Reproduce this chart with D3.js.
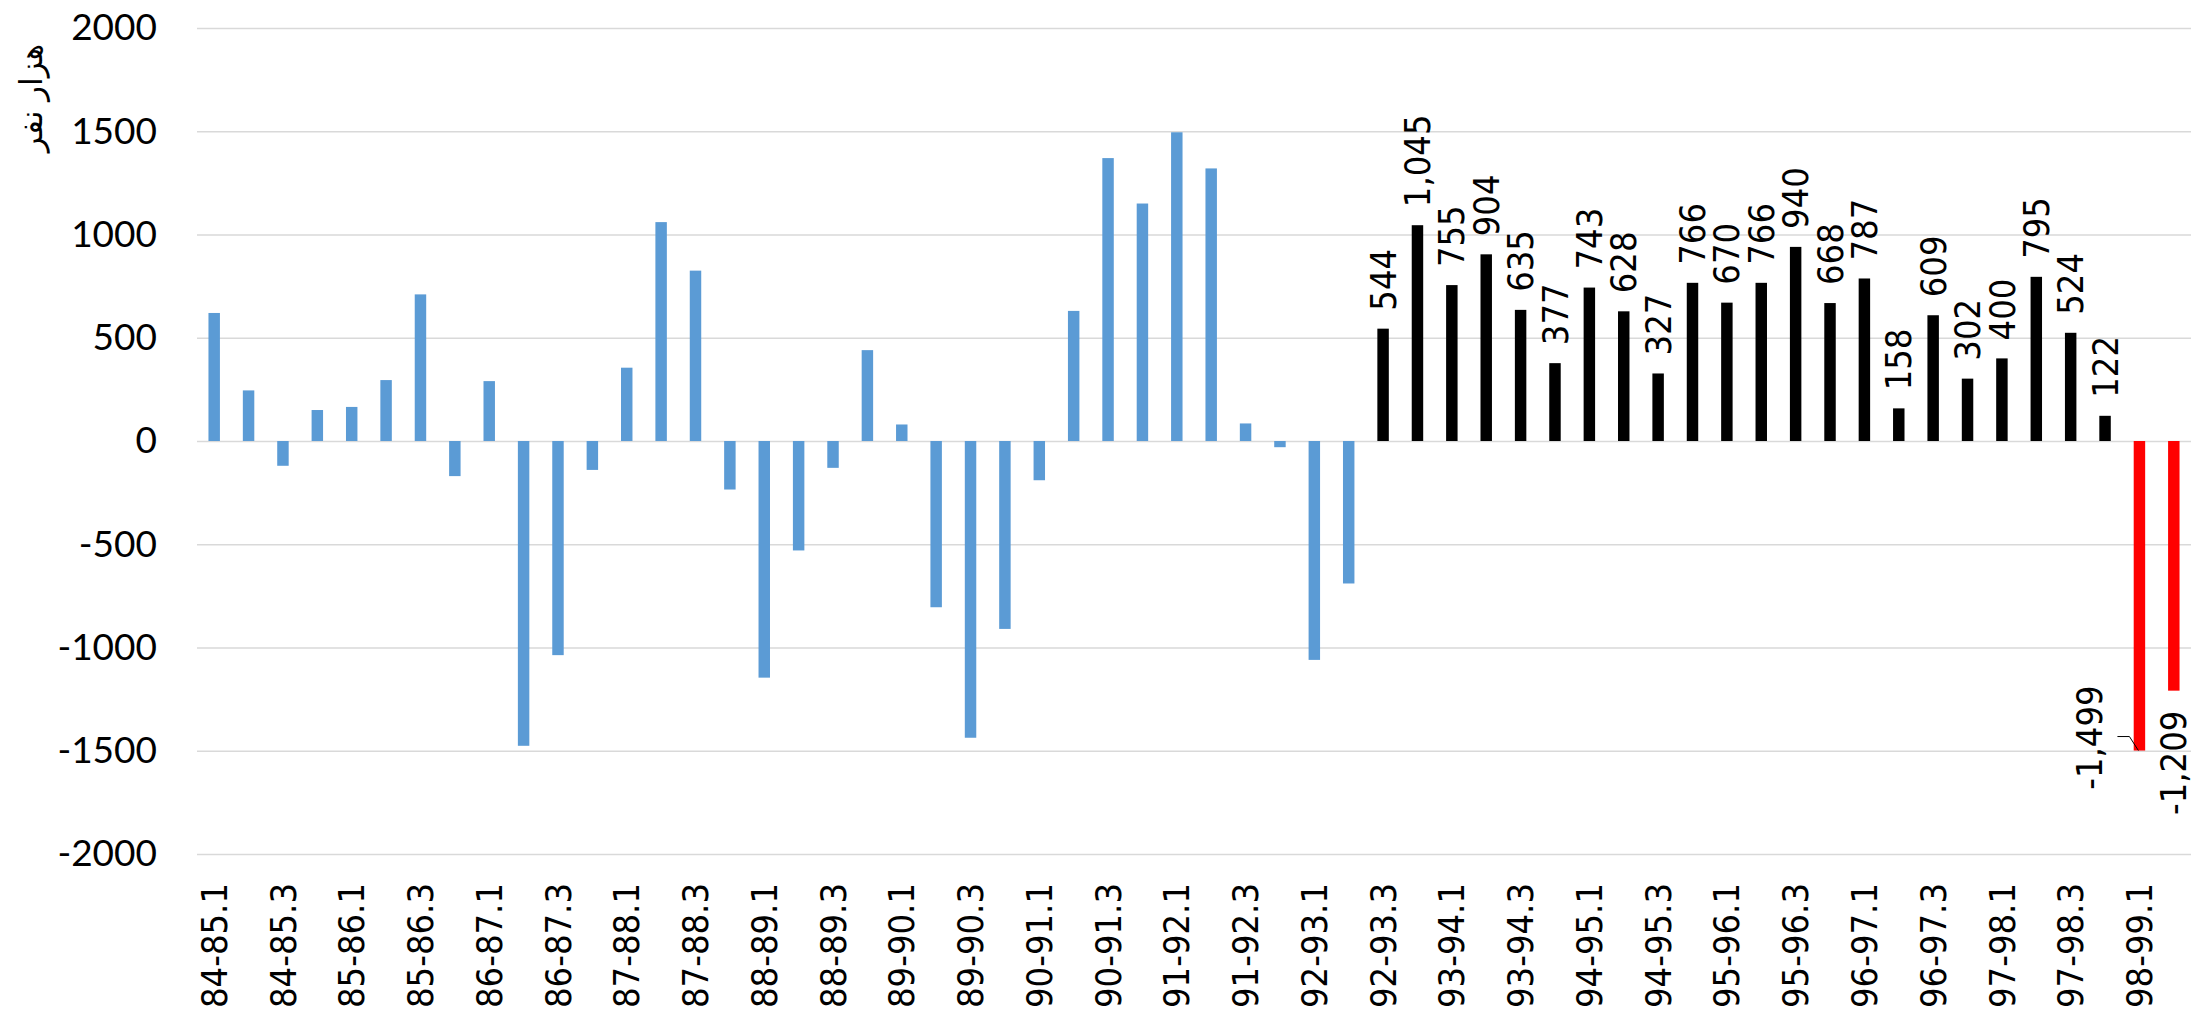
<!DOCTYPE html>
<meta charset="utf-8">
<style>
body { margin: 0; background: #fff; }
.grid line { stroke: #d9d9d9; stroke-width: 1.5px; }
.grid text { font-family: Lato, "Open Sans", sans-serif; font-size: 37px; fill: #000; }
.xaxis text { font-family: "DejaVu Sans Condensed", "Open Sans", sans-serif; font-size: 36px; fill: #000; }
.label { font-family: "DejaVu Sans Condensed", "Open Sans", sans-serif; font-size: 36px; fill: #000; }
.title { font-family: "DejaVu Sans", sans-serif; font-size: 31px; fill: #000; }
</style>
<svg width="2196" height="1014"></svg>
<script src="https://d3js.org/d3.v7.min.js"></script>
<script>

var categories = [
  "84-85.1", "84-85.2", "84-85.3", "84-85.4",
  "85-86.1", "85-86.2", "85-86.3", "85-86.4",
  "86-87.1", "86-87.2", "86-87.3", "86-87.4",
  "87-88.1", "87-88.2", "87-88.3", "87-88.4",
  "88-89.1", "88-89.2", "88-89.3", "88-89.4",
  "89-90.1", "89-90.2", "89-90.3", "89-90.4",
  "90-91.1", "90-91.2", "90-91.3", "90-91.4",
  "91-92.1", "91-92.2", "91-92.3", "91-92.4",
  "92-93.1", "92-93.2", "92-93.3", "92-93.4",
  "93-94.1", "93-94.2", "93-94.3", "93-94.4",
  "94-95.1", "94-95.2", "94-95.3", "94-95.4",
  "95-96.1", "95-96.2", "95-96.3", "95-96.4",
  "96-97.1", "96-97.2", "96-97.3", "96-97.4",
  "97-98.1", "97-98.2", "97-98.3", "97-98.4",
  "98-99.1", "98-99.2"
];

// blue: no labels, black: labelled, red: last two quarters
var blueValues = [620, 245, -120, 150, 165, 295, 710, -170, 290, -1476, -1037, -140,
  355, 1060, 825, -235, -1146, -530, -130, 440, 80, -805, -1437, -910, -190,
  630, 1370, 1150, 1495, 1320, 85, -30, -1060, -690];
var blackValues = [544, 1045, 755, 904, 635, 377, 743, 628, 327, 766, 670, 766,
  940, 668, 787, 158, 609, 302, 400, 795, 524, 122];
var redValues = [-1499, -1209];

var yTicks = [-2000, -1500, -1000, -500, 0, 500, 1000, 1500, 2000];
var axisTitle = "هزار نفر";

var data = [];
blueValues.forEach(function(v) { data.push({ value: v, group: "blue" }); });
blackValues.forEach(function(v) { data.push({ value: v, group: "black" }); });
redValues.forEach(function(v) { data.push({ value: v, group: "red" }); });
data.forEach(function(d, i) { d.cat = categories[i]; });

var color = { blue: "#5b9bd5", black: "#000000", red: "#ff0000" };

var locale = d3.formatLocale({ decimal: ".", thousands: ",", grouping: [3], currency: ["", ""], minus: "-" });
var fmtLabel = locale.format(",");
var fmtTick = locale.format("d");

var svg = d3.select("svg"),
    plotLeft = 197, plotRight = 2191, plotTop = 28, plotBottom = 854;

var x = d3.scaleBand()
    .domain(categories)
    .range([plotLeft, plotRight])
    .paddingInner(2 / 3)
    .paddingOuter(1 / 3);

var y = d3.scaleLinear()
    .domain([-2000, 2000])
    .range([plotBottom, plotTop]);

// gridlines + y labels
svg.append("g")
    .attr("class", "grid")
    .attr("transform", "translate(" + plotLeft + ",0)")
    .call(d3.axisLeft(y)
      .tickValues(yTicks)
      .tickFormat(fmtTick)
      .tickSize(-(plotRight - plotLeft))
      .tickPadding(40))
    .call(function(g) { g.select(".domain").remove(); });

svg.append("text")
    .attr("class", "title")
    .attr("transform", "translate(31,98) rotate(-90)")
    .attr("text-anchor", "middle")
    .attr("dy", "0.35em")
    .text(axisTitle);

// x labels, every other quarter
var xg = svg.append("g")
    .attr("class", "xaxis")
    .attr("transform", "translate(0," + plotBottom + ")")
    .call(d3.axisBottom(x)
      .tickValues(categories.filter(function(d, i) { return i % 2 === 0; }))
      .tickSize(0));
xg.select(".domain").remove();
xg.selectAll("text")
    .attr("transform", "rotate(-90)")
    .attr("x", -29)
    .attr("y", 0)
    .attr("dy", "0.35em")
    .style("text-anchor", "end");

// bars
svg.append("g").selectAll("rect")
    .data(data)
  .enter().append("rect")
    .attr("x", function(d) { return x(d.cat); })
    .attr("width", x.bandwidth())
    .attr("y", function(d) { return y(Math.max(0, d.value)); })
    .attr("height", function(d) { return Math.abs(y(d.value) - y(0)); })
    .attr("fill", function(d) { return color[d.group]; });

// labels on black bars
var cx = function(d) { return x(d.cat) + x.bandwidth() / 2; };

svg.append("g").selectAll("text")
    .data(data.filter(function(d) { return d.group === "black"; }))
  .enter().append("text")
    .attr("class", "label")
    .attr("transform", function(d) { return "translate(" + cx(d) + "," + (y(d.value) - 18) + ") rotate(-90)"; })
    .attr("dy", "0.35em")
    .attr("text-anchor", "start")
    .text(function(d) { return fmtLabel(d.value); });

// red bar labels: first one moved left with a leader line
var reds = data.filter(function(d) { return d.group === "red"; });
var r0 = reds[0], r1 = reds[1];

svg.append("text")
    .attr("class", "label")
    .attr("transform", "translate(" + (cx(r0) - 50) + "," + (y(r0.value) - 13) + ") rotate(-90)")
    .attr("dy", "0.35em")
    .attr("text-anchor", "middle")
    .text(fmtLabel(r0.value));

svg.append("path")
    .attr("d", d3.line()([
      [cx(r0) - 22, y(r0.value) - 14],
      [cx(r0) - 10, y(r0.value) - 14],
      [cx(r0) - 1, y(r0.value)]
    ]))
    .attr("fill", "none")
    .attr("stroke", "#000")
    .attr("stroke-width", 1);

svg.append("text")
    .attr("class", "label")
    .attr("transform", "translate(" + cx(r1) + "," + (y(r1.value) + 20) + ") rotate(-90)")
    .attr("dy", "0.35em")
    .attr("text-anchor", "end")
    .text(fmtLabel(r1.value));

</script>
